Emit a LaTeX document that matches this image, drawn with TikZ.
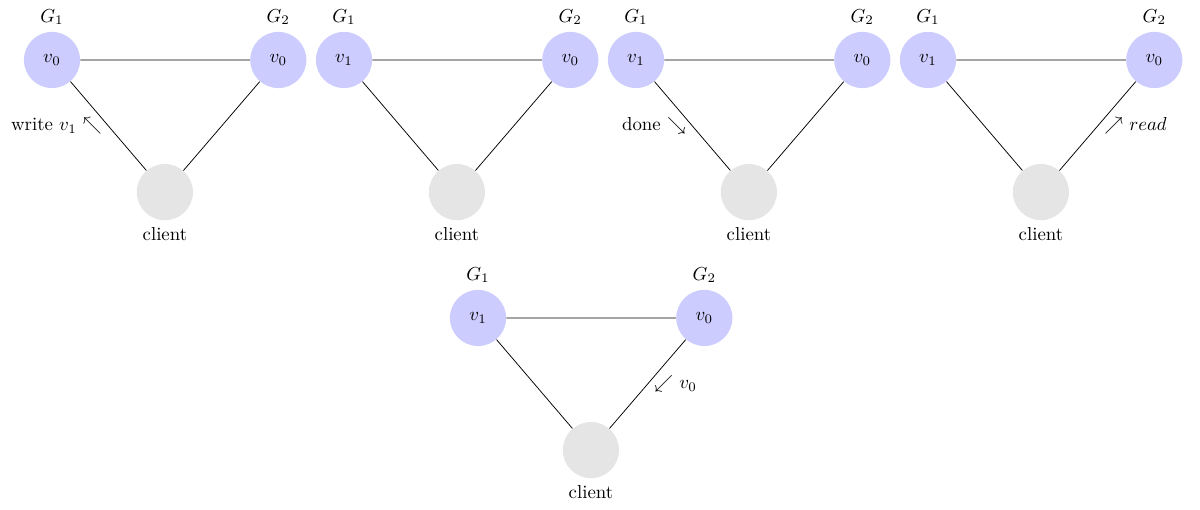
\documentclass[tikz,border=0pt]{standalone}
\usepackage{amssymb}

\tikzset{
  server/.style={circle, fill=blue!20, minimum size=1.05cm, inner sep=0pt},
  clientnode/.style={circle, fill=gray!20, minimum size=1.05cm, inner sep=0pt},
}

\begin{document}
\begin{tikzpicture}
    \useasboundingbox (-0.972, 1.121) rectangle (21.458, -8.393);
    % one triangle per step: G_1, G_2 and the client
    \foreach \i/\x/\y/\val in {1/0/0/0, 2/5.458/0/1, 3/10.916/0/1, 4/16.374/0/1, 5/7.963/-4.822/1}{
      \begin{scope}[shift={(\x,\y)}]
        \node[server, label=above:$G_1$] (ga\i) at (0,0) {$v_\val$};
        \node[server, label=above:$G_2$] (gb\i) at (4.23,0) {$v_0$};
        \node[clientnode, label=below:client] (c\i) at (2.11,-2.47) {};
        \draw (ga\i) -- (gb\i) (ga\i) -- (c\i) (gb\i) -- (c\i);
      \end{scope}
    }
    \path (ga1) -- (c1) node[midway, left]{write $v_1$ $\nwarrow$};
    \path (ga3) -- (c3) node[midway, left]{done $\searrow$};
    \path (gb4) -- (c4) node[midway, right]{$\nearrow$ $read$};
    \path (gb5) -- (c5) node[midway, right]{$\swarrow$ $v_0$};
  \end{tikzpicture}
\end{document}
